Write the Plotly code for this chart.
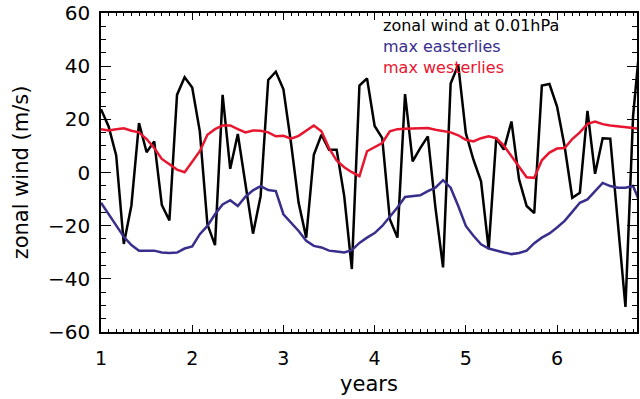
import plotly.graph_objects as go

# Monthly samples, starting at year 1
months = list(range(72))
years = [1 + m / 12 for m in months]

zonal_wind = [23.8, 17.3, 6.4, -26.9, -12.4, 18.6, 7.6, 11.7, -12.2, -18.0, 29.2, 35.8,
              32.0, 15.5, -19.5, -27.3, 29.2, 1.4, 14.5, -3.9, -23.0, -8.9, 34.8, 37.9,
              31.3, 11.1, -11.4, -24.5, 6.7, 14.2, 8.6, 8.6, -8.9, -36.3, 32.7, 35.4,
              17.5, 12.9, -17.6, -24.5, 29.5, 4.2, 9.2, 13.6, -13.2, -35.7, 33.5, 40.4,
              14.8, 4.8, -3.3, -28.8, 12.9, 8.6, 19.2, -2.6, -12.6, -15.3, 32.7, 33.3,
              24.8, 9.8, -9.5, -7.6, 23.2, -0.5, 12.9, 12.7, -18.8, -50.6, 21.1, 52.0]

max_easterlies = [-11.4, -15.7, -19.5, -24.2, -27.3, -29.4, -29.4, -29.4, -30.1, -30.3, -30.1, -28.6,
                  -27.8, -23.2, -20.1, -15.7, -12.0, -10.4, -12.6, -9.1, -6.7, -5.1, -6.6, -7.0,
                  -15.7, -18.8, -22.0, -25.7, -27.6, -28.2, -29.4, -29.7, -30.1, -29.2, -26.5, -24.5,
                  -22.8, -20.1, -16.6, -13.2, -9.2, -8.9, -8.6, -7.0, -5.7, -2.9, -5.7, -12.6,
                  -20.1, -23.8, -27.0, -28.6, -29.4, -30.1, -30.7, -30.3, -29.4, -26.6, -24.5, -22.9,
                  -20.7, -18.2, -14.8, -11.4, -10.1, -7.0, -3.9, -5.1, -5.7, -5.7, -5.1, -12.0]

max_westerlies = [16.3, 15.8, 16.3, 16.6, 15.7, 15.1, 12.6, 9.2, 5.1, 3.0, 1.1, 0.1,
                  4.2, 8.0, 14.2, 16.3, 17.7, 17.7, 16.3, 15.1, 15.8, 15.7, 15.1, 13.6,
                  13.8, 12.7, 13.8, 15.7, 17.7, 15.5, 9.2, 4.5, 2.0, 0.1, -1.4, 8.0,
                  9.4, 11.1, 15.5, 16.3, 16.5, 16.5, 16.5, 16.7, 16.1, 15.7, 15.1, 14.0,
                  12.3, 11.7, 12.9, 13.6, 12.9, 10.1, 6.1, 2.0, -1.8, -2.0, 4.6, 7.5,
                  9.0, 9.2, 12.6, 15.1, 18.3, 19.2, 18.2, 17.7, 17.3, 16.9, 16.7, 16.5]

BLACK = "#000000"
BLUE = "#382e8c"
RED = "#e8152f"
FONT = "DejaVu Sans"

fig = go.Figure()
fig.add_trace(go.Scatter(x=years, y=zonal_wind, mode="lines",
                         line=dict(color=BLACK, width=2.5), showlegend=False))
fig.add_trace(go.Scatter(x=years, y=max_easterlies, mode="lines",
                         line=dict(color=BLUE, width=2.5), showlegend=False))
fig.add_trace(go.Scatter(x=years, y=max_westerlies, mode="lines",
                         line=dict(color=RED, width=2.5), showlegend=False))

# Three-line key in the upper part of the plot, one colour per series
legend_rows = [("zonal wind at 0.01hPa", BLACK),
               ("max easterlies", BLUE),
               ("max westerlies", RED)]
key_text = "<br>".join(f"<span style='color:{c}'>{t}</span>" for t, c in legend_rows)
fig.add_annotation(x=0.523, y=0.997, xref="paper", yref="paper",
                   xanchor="left", yanchor="top", showarrow=False, align="left",
                   text=key_text, font=dict(family=FONT, size=16, color=BLACK))

fig.update_xaxes(range=[1, 1 + 537.7 / 91.5], tick0=1, dtick=1,
                 showgrid=False, zeroline=False,
                 showline=True, linecolor="black", linewidth=1.5, mirror="ticks",
                 ticks="inside", ticklen=7, tickwidth=1.2, tickcolor="black",
                 minor=dict(dtick=1 / 12, tick0=1, ticks="inside", ticklen=3.5,
                            tickwidth=1, tickcolor="black", showgrid=False),
                 tickfont=dict(family=FONT, size=19, color="black"),
                 ticklabelstandoff=8,
                 title=dict(text="years", font=dict(family=FONT, size=21, color="black"),
                            standoff=9))
fig.update_yaxes(range=[-60, 60], tick0=0, dtick=20,
                 showgrid=False, zeroline=False,
                 showline=True, linecolor="black", linewidth=1.5, mirror="ticks",
                 ticks="inside", ticklen=10, tickwidth=1.2, tickcolor="black",
                 minor=dict(dtick=5, ticks="inside", ticklen=5.5,
                            tickwidth=1, tickcolor="black", showgrid=False),
                 tickfont=dict(family=FONT, size=20, color="black"),
                 ticklabeloverflow="allow",
                 ticklabelstandoff=5,
                 title=dict(text="zonal wind (m/s)", font=dict(family=FONT, size=21, color="black"),
                            standoff=14))

fig.update_layout(width=640, height=399,
                  margin=dict(l=101, r=1, t=11, b=67),
                  paper_bgcolor="white", plot_bgcolor="white")

fig.write_html("out.html")
